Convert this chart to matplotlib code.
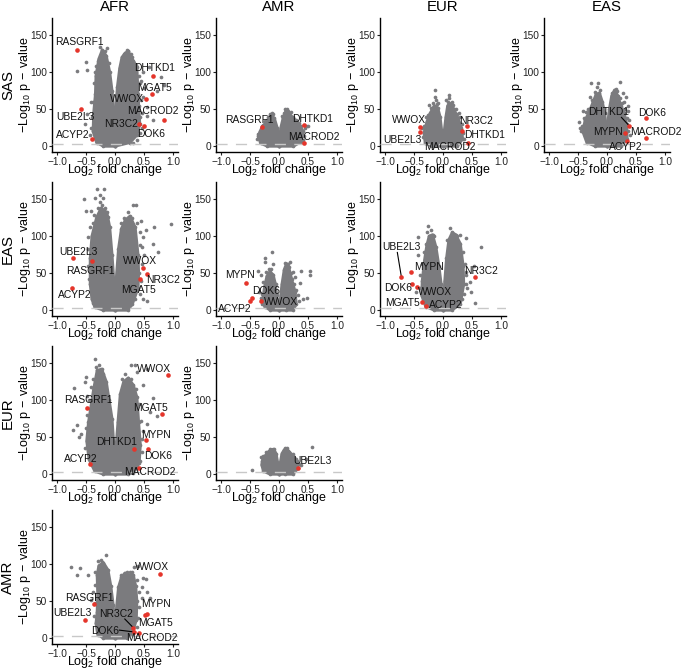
import matplotlib
matplotlib.use("Agg")
import matplotlib.pyplot as plt

plt.rcParams['font.family'] = ['Liberation Sans', 'DejaVu Sans']
plt.rcParams['mathtext.default'] = 'regular'

# query population / reference population for each panel
columns = ['AFR', 'AMR', 'EUR', 'EAS']
rows = ['SAS', 'EAS', 'EUR', 'AMR']
x_ticks = [-1.0, -0.5, 0.0, 0.5, 1.0]
x_tick_labels = ['\u22121.0', '\u22120.5', '0.0', '0.5', '1.0']
y_ticks = [0, 50, 100, 150]

# AFR vs SAS
afr_sas_left_x = [0, -.2, -.32, -.38, -.37, -.34, -.33, -.28, -.22, -.15, -.09, -.05, -.02, 0]
afr_sas_left_y = [0, 0, 5, 20, 45, 70, 95, 118, 130, 122, 100, 75, 50, 0]
afr_sas_right_x = [0, .01, .04, .08, .12, .18, .23, .32, .38, .40, .43, .38, .26, 0]
afr_sas_right_y = [0, 48, 80, 105, 120, 126, 128, 115, 107, 70, 30, 15, 5, 0]
afr_sas_loose_x = [-.5, -.48, -.65, -.145, -.26, .23, .32, .49, .58, .8, .84, .72, .665, .49, .55, -.29, -.49, -.52, .55, -.42, .45, .5,
                   -.38, -.4, -.36, -.35, -.42, -.44, -.3, -.33, -.2, -.18, -.1, .42, .44, .47, .45, .43, .42, .37, .3, .27, .2, .15, .47, .44, .38, .32]
afr_sas_loose_y = [114, 103, 102, 132, 134, 128, 112, 100, 107, 93, 82, 75, 35, 66, 53, 30, 44, 30, 41, 60, 88, 78,
                   60, 40, 85, 100, 25, 15, 115, 108, 125, 128, 112, 55, 40, 45, 62, 85, 95, 110, 120, 125, 130, 125, 25, 18, 8, 5]
afr_sas_genes = ['RASGRF1', 'DHTKD1', 'MGAT5', 'WWOX', 'MACROD2', 'NR3C2', 'DOK6', 'UBE2L3', 'ACYP2']
afr_sas_x = [-.66, .665, .635, .53, .84, .42, .51, -.58, -.40]
afr_sas_y = [130, 95, 70, 64, 35, 30, 27, 50, 10]
afr_sas_label_x = [-.62, .68, .68, .20, .65, .10, .62, -.69, -.73]
afr_sas_label_y = [140, 105, 79, 64, 47, 30, 16, 39, 15]

# AMR vs SAS
amr_sas_left_x = [0, -.2, -.32, -.36, -.3, -.22, -.14, -.08, -.03, -.01, 0]
amr_sas_left_y = [0, 0, 4, 14, 25, 33, 42, 38, 25, 12, 0]
amr_sas_right_x = [0, .01, .03, .07, .12, .18, .25, .33, .42, .38, .25, 0]
amr_sas_right_y = [0, 12, 25, 38, 48, 44, 38, 32, 20, 6, 0, 0]
amr_sas_loose_x = [.1, .05, .3, .47, .45, -.37, -.35, -.27, .4, .5, .15, -.1,
                   -.3, -.24, -.19, -.15, -.38, -.33, -.12, .08, .13, .2, .25, .35, .38, .43, .41, .3]
amr_sas_loose_y = [50.5, 41, 33, 28, 24, 17, 12, 29, 14, 27, 47, 43,
                   27, 34, 39, 43, 10, 21, 45, 45, 50, 46, 40, 31, 27, 14, 9, 35]
amr_sas_genes = ['RASGRF1', 'DHTKD1', 'MACROD2']
amr_sas_x = [-.30, .43, .43]
amr_sas_y = [26, 28.5, 4.5]
amr_sas_label_x = [-.51, .58, .60]
amr_sas_label_y = [35, 37, 12]

# EUR vs SAS
eur_sas_left_x = [0, -.2, -.31, -.33, -.28, -.22, -.15, -.09, -.05, -.02, 0]
eur_sas_left_y = [0, 0, 5, 18, 33, 45, 55, 52, 40, 20, 0]
eur_sas_right_x = [0, .02, .05, .08, .13, .19, .26, .32, .34, .25, 0]
eur_sas_right_y = [0, 20, 40, 55, 58, 50, 38, 25, 10, 0, 0]
eur_sas_loose_x = [-.13, -.12, -.2, -.24, -.14, .1, .11, .08, .17, .27, .3, .33, -.3, -.36,
                   -.33, -.26, -.18, -.1, -.34, .15, .22, .25, .35, .36, .06, -.08]
eur_sas_loose_y = [76, 62, 52, 56, 66, 69, 65, 60, 56, 45, 40, 30, 40, 25,
                   28, 42, 58, 57, 12, 60, 50, 44, 18, 10, 62, 58]
eur_sas_genes = ['WWOX', 'UBE2L3', 'NR3C2', 'DHTKD1', 'MACROD2']
eur_sas_x = [-.39, -.39, .41, .335, .43]
eur_sas_y = [26, 18.6, 27, 20, 5]
eur_sas_label_x = [-.58, -.70, .57, .72, .12]
eur_sas_label_y = [35, 9, 34.5, 15.5, -.5]

# EAS vs SAS
eas_sas_left_x = [0, -.2, -.35, -.42, -.38, -.3, -.24, -.19, -.13, -.08, -.04, -.01, 0]
eas_sas_left_y = [0, 0, 5, 20, 35, 48, 60, 70, 72, 60, 45, 25, 0]
eas_sas_right_x = [0, .01, .04, .08, .13, .19, .24, .3, .34, .35, .25, 0]
eas_sas_right_y = [0, 30, 50, 68, 76, 68, 55, 45, 30, 10, 0, 0]
eas_sas_loose_x = [-.27, -.15, -.17, .23, .16, .27, .33, .3, .37, -.3, -.42, -.37, -.48, -.47, -.45, .36, .36,
                   -.44, -.4, -.33, -.26, -.2, -.12, .09, .18, .22, .26, .31, .38, .35, .4]
eas_sas_loose_y = [85, 86, 80, 87, 77, 72, 67, 60, 55, 66, 48, 46, 33, 24, 20, 47, 20,
                   28, 38, 50, 63, 73, 76, 72, 75, 65, 58, 50, 35, 38, 15]
eas_sas_genes = ['DOK6', 'DHTKD1', 'MYPN', 'MACROD2', 'ACYP2']
eas_sas_x = [.67, .38, .32, .67, .345]
eas_sas_y = [38, 28, 18, 11.5, 7]
eas_sas_label_x = [.78, .02, .02, .85, .33]
eas_sas_label_y = [44.5, 46, 18.6, 18.6, -1]

# AFR vs EAS
afr_eas_left_x = [0, -.2, -.35, -.4, -.43, -.43, -.4, -.32, -.24, -.14, -.09, -.05, -.02, 0]
afr_eas_left_y = [0, 0, 4, 15, 35, 70, 100, 125, 138, 132, 112, 75, 40, 0]
afr_eas_right_x = [0, .02, .06, .11, .18, .26, .35, .4, .41, .40, .30, .22, 0]
afr_eas_right_y = [0, 42, 83, 110, 122, 127, 112, 75, 50, 30, 8, 0, 0]
afr_eas_loose_x = [-.31, -.185, -.54, -.50, -.42, -.46, -.26, -.35, -.2, .965, .68, .48, .65, .75, .32, .36, .45, .54, -.38, .49, .55, .5, .46,
                   -.47, -.45, -.46, -.44, -.42, -.38, -.36, -.3, -.26, -.22, -.17, -.12, .1, .15, .22, .3, .38, .43, .44, .46, .45, .43, .35, .28]
afr_eas_loose_y = [163, 163, 150, 134, 134, 99, 155, 151, 151, 116, 112, 99, 90, 79, 142, 142, 121, 108, 10, 15, 13, 75, 85,
                   60, 42, 82, 112, 25, 118, 128, 138, 146, 142, 138, 126, 118, 125, 132, 125, 118, 105, 88, 62, 40, 22, 15, 10]
afr_eas_genes = ['UBE2L3', 'RASGRF1', 'WWOX', 'NR3C2', 'MGAT5', 'ACYP2']
afr_eas_x = [-.72, -.40, .48, .56, .43, -.745]
afr_eas_y = [70, 66.6, 57, 49, 41.7, 30]
afr_eas_label_x = [-.64, -.42, .43, .83, .40, -.70]
afr_eas_label_y = [79, 53.5, 66, 41, 27, 20]

# AMR vs EAS
amr_eas_left_x = [0, -.15, -.25, -.28, -.25, -.21, -.16, -.10, -.06, -.04, -.015, 0]
amr_eas_left_y = [0, 0, 5, 15, 32, 46, 52, 48, 35, 20, 8, 0]
amr_eas_right_x = [0, .015, .05, .09, .13, .17, .22, .28, .30, .24, .12, 0]
amr_eas_right_y = [0, 10, 35, 55, 63, 58, 42, 25, 8, 0, 0, 0]
amr_eas_loose_x = [-.12, -.24, -.1, -.37, -.31, .19, .38, .53, .53, .24, .36, .49, .42, -.25, -.34,
                   -.28, -.3, -.22, -.18, -.14, -.29, -.32, .1, .16, .21, .26, .3, .33, .35, .27]
amr_eas_loose_y = [78, 70, 62, 53, 47, 65, 53, 53, 47, 51, 37, 17, 15, 65, 24,
                   38, 22, 52, 56, 56, 8, 16, 64, 62, 50, 35, 28, 20, 12, 45]
amr_eas_genes = ['MYPN', 'DOK6', 'ACYP2', 'WWOX']
amr_eas_x = [-.57, -.47, -.51, -.31]
amr_eas_y = [37, 16, 12, 13]
amr_eas_label_x = [-.67, -.23, -.76, .04]
amr_eas_label_y = [48, 25.4, 2.3, 11.3]

# EUR vs EAS
eur_eas_left_x = [0, -.15, -.3, -.37, -.36, -.32, -.28, -.24, -.18, -.12, -.07, -.03, -.01, 0]
eur_eas_left_y = [0, 0, 5, 20, 40, 68, 88, 100, 102, 85, 60, 35, 15, 0]
eur_eas_right_x = [0, .01, .03, .06, .1, .16, .22, .3, .35, .36, .3, .15, 0]
eur_eas_right_y = [0, 15, 40, 70, 95, 105, 102, 90, 60, 35, 8, 0, 0]
eur_eas_loose_x = [-.265, -.2, -.43, .115, .2, .40, .65, .54, .4, .46, .49, .55, -.46, -.43, .29,
                   -.4, -.39, -.36, -.33, -.3, -.27, -.15, .07, .25, .34, .38, .4, .39, .37, .42, .33]
eur_eas_loose_y = [113, 108, 99, 111, 102, 98, 85, 60, 47, 38, 24, 10, 24, 74, 101,
                   30, 48, 62, 78, 90, 105, 100, 95, 100, 78, 62, 52, 35, 22, 30, 15]
eur_eas_genes = ['UBE2L3', 'MYPN', 'DOK6', 'WWOX', 'MGAT5', 'ACYP2', 'NR3C2']
eur_eas_x = [-.72, -.56, -.53, -.445, -.37, -.30, .555]
eur_eas_y = [45, 51, 36, 32, 11, 5.4, 45]
eur_eas_label_x = [-.72, -.25, -.78, -.13, -.70, .05, .65]
eur_eas_label_y = [85, 59, 29.5, 24.5, 9.5, 7, 53]

# AFR vs EUR
afr_eur_left_x = [0, -.2, -.35, -.45, -.49, -.46, -.42, -.37, -.31, -.23, -.15, -.1, -.05, -.02, 0]
afr_eur_left_y = [0, 0, 4, 20, 45, 70, 90, 115, 140, 142, 125, 100, 75, 40, 0]
afr_eur_right_x = [0, .02, .05, .09, .15, .23, .32, .38, .41, .44, .42, .32, .22, 0]
afr_eur_right_y = [0, 40, 70, 108, 125, 130, 120, 104, 70, 40, 15, 2, 0, 0]
afr_eur_loose_x = [-.35, -.51, -.52, -.705, -.49, -.72, -.65, -.62, -.585, .27, .35, .38, .55, .49, .65, .72, .61, .55, .49,
                   -.52, -.5, -.48, -.45, -.41, -.38, -.33, -.27, -.2, .12, .18, .28, .36, .42, .45, .47, .46, .44, .38]
afr_eur_loose_y = [155, 131, 124, 116, 106, 60, 66, 50, 54, 147, 147, 138, 142, 120, 103, 78, 84, 68, 59,
                   36, 62, 80, 100, 118, 128, 145, 148, 135, 128, 135, 128, 115, 95, 72, 48, 30, 18, 8]
afr_eur_genes = ['WWOX', 'RASGRF1', 'MGAT5', 'MYPN', 'DHTKD1', 'DOK6', 'ACYP2', 'MACROD2']
afr_eur_x = [.925, -.485, .81, .54, .335, .57, -.44, .41]
afr_eur_y = [134, 90, 81, 46, 34.5, 34, 13.6, 9]
afr_eur_label_x = [.68, -.46, .62, .71, .03, .74, -.59, .60]
afr_eur_label_y = [142, 100, 89, 53, 43.5, 25, 21, 2.7]

# AMR vs EUR
amr_eur_left_x = [0, -.15, -.27, -.30, -.28, -.24, -.19, -.14, -.09, -.05, -.02, 0]
amr_eur_left_y = [0, 0, 4, 13, 22, 25, 30, 33, 34, 28, 15, 0]
amr_eur_right_x = [0, .02, .05, .09, .13, .18, .25, .31, .33, .24, .1, 0]
amr_eur_right_y = [0, 15, 28, 33, 35, 30, 25, 18, 8, 0, 0, 0]
amr_eur_loose_x = [-.465, .565, -.32, .38, .47, -.3, -.27, -.22, -.16, .11, .16, .24, .3, .34]
amr_eur_loose_y = [5.5, 37, 23, 13, 20, 18, 25, 30, 34, 36, 32, 27, 21, 14]
amr_eur_genes = ['UBE2L3']
amr_eur_x = [.335]
amr_eur_y = [9]
amr_eur_label_x = [.585]
amr_eur_label_y = [18]

# AFR vs AMR
afr_amr_left_x = [0, -.2, -.3, -.33, -.31, -.3, -.31, -.28, -.2, -.12, -.07, -.03, -.01, 0]
afr_amr_left_y = [0, 0, 5, 20, 35, 60, 85, 98, 102, 92, 70, 45, 20, 0]
afr_amr_right_x = [0, .02, .06, .11, .17, .25, .32, .36, .38, .37, .3, .2, 0]
afr_amr_right_y = [0, 37, 69, 82, 88, 85, 85, 70, 50, 25, 6, 0, 0]
afr_amr_loose_x = [-.16, -.76, -.61, -.65, -.47, -.23, .26, .335, .4, .49, .53, .46, .55, .46, .6, -.42, -.375,
                   -.36, -.35, -.34, -.35, -.3, -.25, .1, .2, .3, .38, .41, .42, .4, .38]
afr_amr_loose_y = [112, 96, 95, 86, 85, 103, 89, 96, 97, 81, 80, 69, 62, 55, 55, 51, 62,
                   30, 48, 72, 90, 104, 105, 85, 90, 90, 78, 62, 42, 28, 15]
afr_amr_genes = ['WWOX', 'RASGRF1', 'MYPN', 'MGAT5', 'UBE2L3', 'NR3C2', 'DOK6', 'MACROD2']
afr_amr_x = [.785, -.365, .555, .52, -.525, .32, .325, .415]
afr_amr_y = [86.5, 46, 33, 31, 25, 14, 8.6, 7.7]
afr_amr_label_x = [.64, -.45, .71, .70, -.73, .01, -.17, .63]
afr_amr_label_y = [96.5, 55, 46, 21, 34.4, 32.6, 10, 0]

W, H = 681, 670
col_left = [52, 216, 380, 544]
row_top = [18, 182, 346, 510]
ax_w, ax_h = 126, 134
grey = '#7b7b7e'
red = '#e5352b'

# row, col, lobes, loose points, genes, connector lines (label end x/y, gene index)
panels = [
    (0, 0, afr_sas_left_x, afr_sas_left_y, afr_sas_right_x, afr_sas_right_y, afr_sas_loose_x, afr_sas_loose_y,
     afr_sas_genes, afr_sas_x, afr_sas_y, afr_sas_label_x, afr_sas_label_y, []),
    (0, 1, amr_sas_left_x, amr_sas_left_y, amr_sas_right_x, amr_sas_right_y, amr_sas_loose_x, amr_sas_loose_y,
     amr_sas_genes, amr_sas_x, amr_sas_y, amr_sas_label_x, amr_sas_label_y, []),
    (0, 2, eur_sas_left_x, eur_sas_left_y, eur_sas_right_x, eur_sas_right_y, eur_sas_loose_x, eur_sas_loose_y,
     eur_sas_genes, eur_sas_x, eur_sas_y, eur_sas_label_x, eur_sas_label_y, []),
    (0, 3, eas_sas_left_x, eas_sas_left_y, eas_sas_right_x, eas_sas_right_y, eas_sas_loose_x, eas_sas_loose_y,
     eas_sas_genes, eas_sas_x, eas_sas_y, eas_sas_label_x, eas_sas_label_y, [(.25, 39, 1)]),
    (1, 0, afr_eas_left_x, afr_eas_left_y, afr_eas_right_x, afr_eas_right_y, afr_eas_loose_x, afr_eas_loose_y,
     afr_eas_genes, afr_eas_x, afr_eas_y, afr_eas_label_x, afr_eas_label_y, []),
    (1, 1, amr_eas_left_x, amr_eas_left_y, amr_eas_right_x, amr_eas_right_y, amr_eas_loose_x, amr_eas_loose_y,
     amr_eas_genes, amr_eas_x, amr_eas_y, amr_eas_label_x, amr_eas_label_y, []),
    (1, 2, eur_eas_left_x, eur_eas_left_y, eur_eas_right_x, eur_eas_right_y, eur_eas_loose_x, eur_eas_loose_y,
     eur_eas_genes, eur_eas_x, eur_eas_y, eur_eas_label_x, eur_eas_label_y, [(-.79, 78, 0)]),
    (2, 0, afr_eur_left_x, afr_eur_left_y, afr_eur_right_x, afr_eur_right_y, afr_eur_loose_x, afr_eur_loose_y,
     afr_eur_genes, afr_eur_x, afr_eur_y, afr_eur_label_x, afr_eur_label_y, []),
    (2, 1, amr_eur_left_x, amr_eur_left_y, amr_eur_right_x, amr_eur_right_y, amr_eur_loose_x, amr_eur_loose_y,
     amr_eur_genes, amr_eur_x, amr_eur_y, amr_eur_label_x, amr_eur_label_y, []),
    (3, 0, afr_amr_left_x, afr_amr_left_y, afr_amr_right_x, afr_amr_right_y, afr_amr_loose_x, afr_amr_loose_y,
     afr_amr_genes, afr_amr_x, afr_amr_y, afr_amr_label_x, afr_amr_label_y, [(.17, 26, 5), (.075, 11, 6)]),
]

fig = plt.figure(figsize=(W / 100, H / 100), dpi=100)

for (r, c, lx, ly, rx, ry, px, py, genes, gx, gy, tx, ty, links) in panels:
    ax = fig.add_axes([col_left[c] / W, 1 - (row_top[r] + ax_h) / H, ax_w / W, ax_h / H])
    ax.fill(lx, ly, color=grey, lw=2, joinstyle='round', zorder=1)
    ax.fill(rx, ry, color=grey, lw=2, joinstyle='round', zorder=1)
    # outline vertices and stray points keep the edge of the cloud bumpy
    ax.scatter(lx + rx + px, ly + ry + py, s=7, color=grey, lw=0, zorder=2)
    ax.axhline(2.5, color='#c8c8c8', lw=1, dashes=(8, 6), zorder=3)
    for (ex, ey, i) in links:
        ax.plot([ex, gx[i]], [ey, gy[i]], color='black', lw=0.8, zorder=4)
    ax.scatter(gx, gy, s=11, color=red, lw=0, zorder=5)
    for name, x, y in zip(genes, tx, ty):
        ax.text(x, y, name, fontsize=7.4, ha='center', va='center', color='#111111', zorder=6)

    ax.set_xlim(-1.09, 1.09)
    ax.set_ylim(-7.7, 173)
    ax.set_xticks(x_ticks)
    ax.set_xticklabels(x_tick_labels)
    ax.set_yticks(y_ticks)
    ax.tick_params(labelsize=7.3, length=2.2, width=0.8, pad=1.5, colors='#222222')
    ax.spines['top'].set_visible(False)
    ax.spines['right'].set_visible(False)
    ax.spines['left'].set_linewidth(1.0)
    ax.spines['bottom'].set_linewidth(1.0)
    ax.set_xlabel(r'$Log_2$ fold change', fontsize=9, va='center')
    ax.xaxis.set_label_coords(0.5, -0.138)
    ax.set_ylabel(r'$-Log_{10}\ p\,-\,value$', fontsize=9, va='center')
    ax.yaxis.set_label_coords(-0.212, 0.5)

for c, name in enumerate(columns):
    fig.text((col_left[c] + ax_w / 2) / W, 1 - 7 / H, name, fontsize=10.8, ha='center', va='center')
for r, name in enumerate(rows):
    fig.text(8 / W, 1 - (row_top[r] + ax_h / 2) / H, name, fontsize=10.8, rotation=90, ha='center', va='center')

fig.savefig('out.png', dpi=100)
